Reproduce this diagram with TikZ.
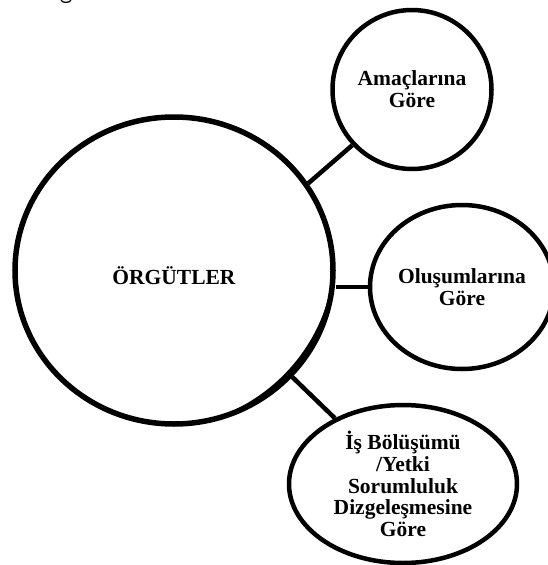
\documentclass[tikz,border=0pt]{standalone}
\usepackage{fontspec}
\setmainfont{Liberation Serif}
\usetikzlibrary{shapes.geometric}
\begin{document}
\begin{tikzpicture}[x=1pt,y=-1pt,
  txt/.style={font=\bfseries\fontsize{21.5}{21.8}\selectfont,align=center,inner sep=0pt},
  bubble/.style={ellipse,draw,line width=4.5pt,inner sep=0pt,txt},
  link/.style={line width=4.5pt}]
\useasboundingbox (0,0) rectangle (548,565);

% trailing stroke of a heading that lies above the page
\coordinate (tailA) at (61,0);
\coordinate (tailB) at (71,0);
\draw[line width=1.3pt] (tailA) .. controls (62,3.2) and (70,3.2) .. (tailB);

% central bubble
\node[bubble,line width=5.5pt,minimum width=318pt,minimum height=307pt] (org) at (174,270.5) {};
\node[txt] (orgtext) at (174,276) {ÖRGÜTLER};
% tapered thickening of the outline at the lower right
\begin{scope}
  \clip (org.center) ellipse [x radius=157pt,y radius=151.5pt];
  \fill[even odd rule]
    (org.center) ellipse [x radius=157pt,y radius=151.5pt]
    (154.1,253.8) ellipse [x radius=180pt,y radius=174.5pt];
\end{scope}

% classification bubbles
\node[bubble,minimum width=159pt,minimum height=159pt] (amac) at (412,89.5) {Amaçlarına\\Göre};
\node[bubble,minimum width=184pt,minimum height=164pt] (olus) at (462,287) {Oluşumlarına\\Göre};
\node[bubble,minimum width=228pt,minimum height=158pt] (isb) at (403,484) {İş Bölüşümü\\/Yetki\\Sorumluluk\\Dizgeleşmesine\\Göre};

% connectors
\draw[link] (org.33) -- (amac.223);
\draw[link] (olus.west -| org.east) -- (olus.west);
\draw[link] (org.-42) -- (isb.136);
\end{tikzpicture}
\end{document}
